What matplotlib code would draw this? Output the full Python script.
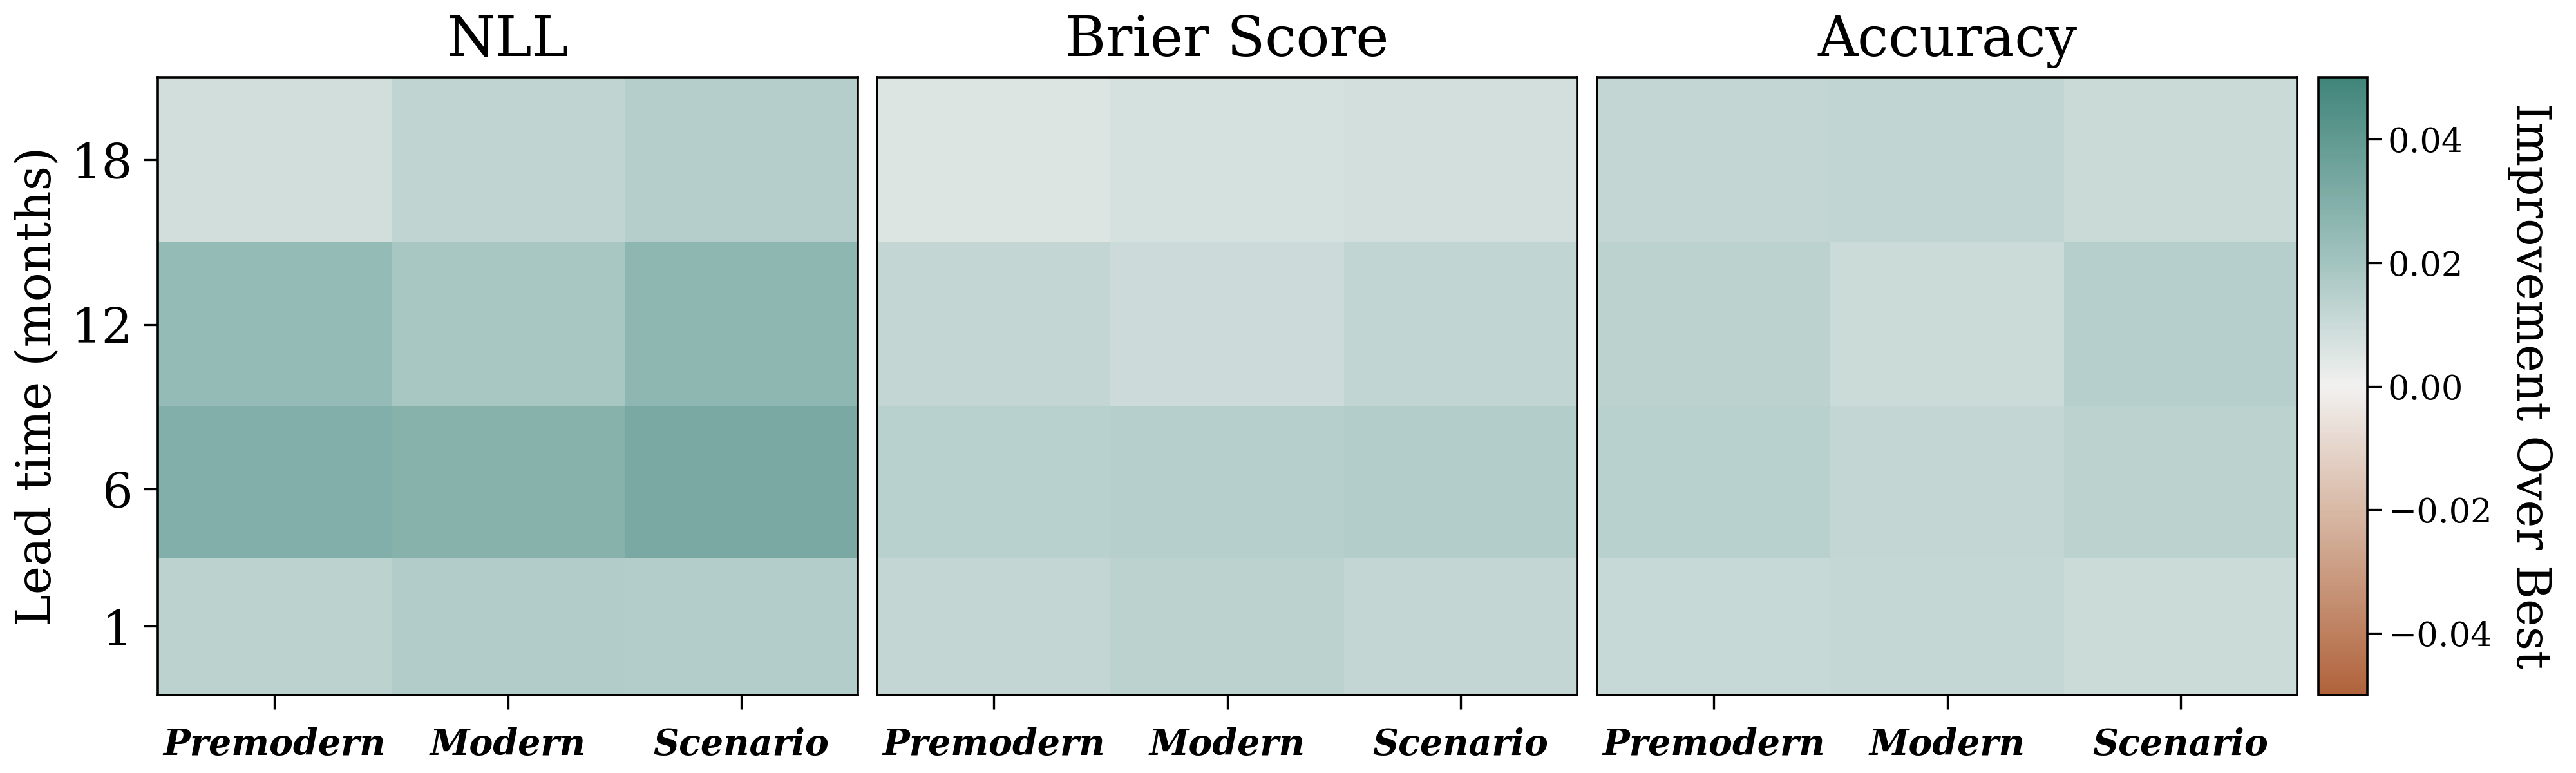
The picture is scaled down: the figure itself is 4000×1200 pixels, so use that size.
import numpy as np
import matplotlib
matplotlib.use("Agg")
import matplotlib.pyplot as plt
from matplotlib.colors import LinearSegmentedColormap

plt.rcParams["font.family"] = ["DejaVu Serif"]

# data: rows are lead times (1, 6, 12, 18), columns are eras
lead_times = [1, 6, 12, 18]
lead_edges = [-1.5, 3.5, 9, 15, 21]
eras = ["Premodern", "Modern", "Scenario"]
metrics = ["NLL", "Brier Score", "Accuracy"]

nll = [
    [0.0139, 0.0164, 0.0157],
    [0.0297, 0.0285, 0.0327],
    [0.0239, 0.0187, 0.0261],
    [0.0084, 0.0127, 0.0154],
]
brier = [
    [0.0119, 0.0137, 0.0121],
    [0.0144, 0.0149, 0.0157],
    [0.0119, 0.0096, 0.0124],
    [0.0053, 0.0071, 0.0081],
]
accuracy = [
    [0.0106, 0.0116, 0.0101],
    [0.0144, 0.0121, 0.0137],
    [0.0139, 0.0101, 0.0152],
    [0.0119, 0.0124, 0.0104],
]

cmap = LinearSegmentedColormap.from_list(
    "brown_teal",
    [(0.0, "#b0633b"), (0.3, "#d8b9a6"), (0.5, "#f2f1f0"), (0.7, "#a3c4c0"), (1.0, "#40857a")],
)
vmin, vmax = -0.05, 0.05

fig = plt.figure(figsize=(20, 6), dpi=200)
lefts = [0.0613, 0.3405, 0.62]
width = 0.2718
bottom, height = 0.1008, 0.7992

for i, (name, vals) in enumerate(zip(metrics, [nll, brier, accuracy])):
    ax = fig.add_axes([lefts[i], bottom, width, height])
    mesh = ax.pcolormesh(np.arange(len(eras) + 1), lead_edges, np.array(vals),
                         cmap=cmap, vmin=vmin, vmax=vmax)
    ax.set_title(name, fontsize=31, pad=12)
    ax.set_xticks(np.arange(len(eras)) + 0.5)
    ax.set_xticklabels(eras, fontsize=20, fontstyle="italic", fontweight="bold")
    ax.tick_params(axis="x", length=8, width=1.2, pad=10)
    if i == 0:
        ax.set_yticks(lead_times)
        ax.set_yticklabels([str(t) for t in lead_times], fontsize=27)
        ax.tick_params(axis="y", length=8, width=1.2, pad=6)
        ax.set_ylabel("Lead time (months)", fontsize=27, labelpad=6)
    else:
        ax.set_yticks([])
    for sp in ax.spines.values():
        sp.set_linewidth(1.3)
        sp.set_color("black")

cax = fig.add_axes([0.9, bottom, 0.019, height])
cb = fig.colorbar(mesh, cax=cax)
cb.set_ticks([-0.04, -0.02, 0.0, 0.02, 0.04])
cb.ax.tick_params(labelsize=19, length=8, width=1.2)
cb.outline.set_linewidth(1.3)
cb.set_label("Improvement Over Best", fontsize=26, rotation=270, labelpad=34)

fig.savefig("out.png", dpi=200)
